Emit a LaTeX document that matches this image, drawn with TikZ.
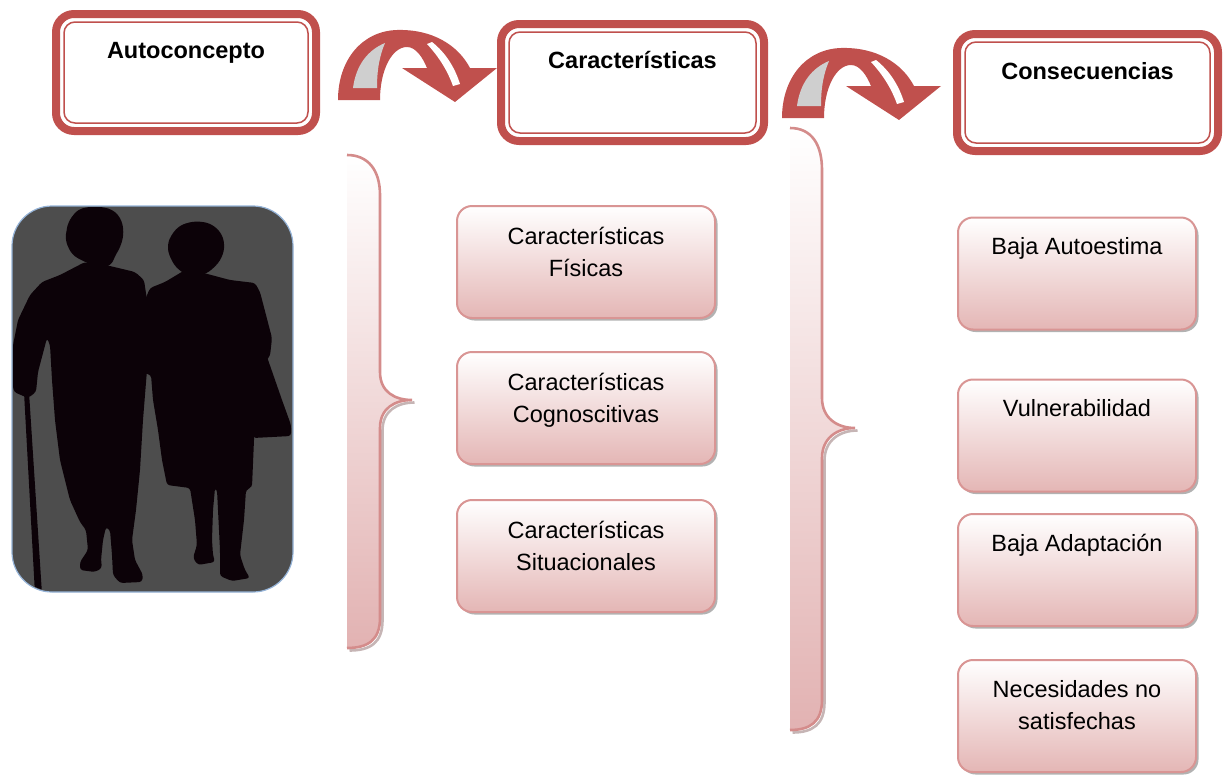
\documentclass[tikz,border=0pt]{standalone}
\usepackage{fontspec}
\setmainfont{Liberation Sans}
\usetikzlibrary{calc,shadows}

\definecolor{hdred}{HTML}{C0504D}
\definecolor{boxline}{HTML}{D99594}
\definecolor{boxbot}{HTML}{E4B6B5}
\definecolor{bracebot}{HTML}{E2B2B2}
\definecolor{braceline}{HTML}{D48C8B}
\definecolor{braceshadow}{HTML}{A08484}
\definecolor{arrgray}{HTML}{CFCFCF}
\definecolor{photobg}{HTML}{4D4D4D}
\definecolor{photoline}{HTML}{95B3D7}
\definecolor{figure}{HTML}{0C0208}

\tikzset{
  headbox/.style={draw=hdred, line width=8pt, rounded corners=18pt, fill=white,
    minimum width=#1, minimum height=117pt, inner sep=0pt, outer sep=0pt},
  headline/.style={draw=hdred, line width=1.5pt, rounded corners=11pt},
  headtext/.style={anchor=base, inner sep=0pt, font=\fontsize{23.5}{32}\selectfont\bfseries},
  pinkbox/.style={draw=boxline, line width=2pt, rounded corners=15pt,
    top color=white, bottom color=boxbot, minimum width=#1, minimum height=112pt,
    inner sep=0pt, outer sep=0pt,
    drop shadow={shadow xshift=2.5pt, shadow yshift=-2.5pt, fill=black, opacity=0.3}},
  bodytext/.style={anchor=base, inner sep=0pt, font=\fontsize{23.5}{32}\selectfont},
  braceedge/.style={draw=braceline, line width=2.6pt},
  braceshade/.style={draw=braceshadow, line width=2.6pt, opacity=0.6},
  photo/.style={rounded corners=40pt, fill=photobg, draw=photoline, line width=1.2pt,
    minimum width=281pt, minimum height=386pt, inner sep=0pt, outer sep=0pt},
  turnarrow/.pic={
    % red band with its arrow head
    \fill[hdred] (338,100) .. controls (338,60) and (362,31) .. (397,30)
      .. controls (432,29) and (458,45) .. (470,68) -- (497,68) -- (455,102)
      -- (402,68) -- (427,68) .. controls (423,58) and (416,47) .. (407,47)
      .. controls (392,47) and (380,70) .. (380,100) -- cycle;
    % grey underside of the rising leg
    \fill[arrgray] (353,88) .. controls (356,65) and (368,50) .. (385,43)
      .. controls (380,55) and (377,68) .. (377,88) -- cycle;
    % light sliver on the descending part
    \fill[white] (427,44) .. controls (440,58) and (448,72) .. (453,86)
      -- (460,84) .. controls (455,68) and (446,53) .. (432,42) -- cycle;
  }
}

\begin{document}
\begin{tikzpicture}[x=1pt,y=-1pt]
\useasboundingbox (0,0) rectangle (1229,774);

% ---------- headings ----------
\node[headbox=260pt] (auto) at (186,72.5) {};
\draw[headline] ($(auto.north west)+(8,8)$) rectangle ($(auto.south east)+(-8,-8)$);
\node[headtext] (autotxt) at ($(auto.north)+(0,44)$) {Autoconcepto};

\node[headbox=263pt] (carac) at (632.5,82.5) {};
\draw[headline] ($(carac.north west)+(8,8)$) rectangle ($(carac.south east)+(-8,-8)$);
\node[headtext] (caractxt) at ($(carac.north)+(0,44)$) {Características};

\node[headbox=261pt] (conse) at (1087.5,92.5) {};
\draw[headline] ($(conse.north west)+(8,8)$) rectangle ($(conse.south east)+(-8,-8)$);
\node[headtext] (consetxt) at ($(conse.north)+(0,45)$) {Consecuencias};

% ---------- curved arrows between headings ----------
\pic (arrowA) at (0,0) {turnarrow};
\pic (arrowB) at (444,18) {turnarrow};

% ---------- photograph ----------
\node[photo] (photo) at (152.5,399) {};
\begin{scope}
  \clip[rounded corners=40pt] ($(photo.north west)+(1,1)$) rectangle ($(photo.south east)+(-1,-1)$);
  % woman with the cane
  \fill[figure, rounded corners=6pt] (68,222) -- (78,209) -- (95,206) -- (112,209) -- (121,218)
    -- (124,232) -- (121,246) -- (115,256) -- (111,266) -- (100,268) -- (85,262)
    -- (72,255) -- (65,240) -- cycle;
  \fill[figure, rounded corners=3pt] (85,262) -- (110,266) -- (135,272) -- (144,280)
    -- (147,300) -- (148,340) -- (147,370) -- (143,420) -- (140,470) -- (136,510)
    -- (134,525) -- (132,540) -- (135,560) -- (143,575) -- (142,582) -- (120,583)
    -- (113,575) -- (112,555) -- (110,530) -- (106,527) -- (103,540) -- (101,560)
    -- (102,568) -- (95,572) -- (80,570) -- (80,562) -- (88,550) -- (86,530)
    -- (80,522) -- (70,500) -- (60,460) -- (55,420) -- (52,380) -- (50,345)
    -- (47,338) -- (38,372) -- (36,392) -- (28,398) -- (14,392) -- (12,380)
    -- (13,345) -- (18,320) -- (30,295) -- (42,282) -- (60,275) -- cycle;
  \fill[figure] (24,392) -- (29,392) -- (42,594) -- (35,594) -- cycle;
  % woman with the handbag
  \fill[figure, rounded corners=6pt] (171,235) -- (180,225) -- (195,221) -- (210,223)
    -- (221,232) -- (225,245) -- (222,258) -- (214,268) -- (204,275) -- (190,276)
    -- (178,270) -- (170,258) -- (167,246) -- cycle;
  \fill[figure, rounded corners=3pt] (185,270) -- (200,272) -- (230,280) -- (255,283)
    -- (260,292) -- (266,315) -- (272,338) -- (270,356) -- (265,362) -- (258,362)
    -- (256,400) -- (254,440) -- (252,487) -- (246,490) -- (244,520) -- (240,555)
    -- (245,570) -- (250,578) -- (232,581) -- (220,576) -- (220,550) -- (218,510)
    -- (217,490) -- (215,488) -- (213,510) -- (212,540) -- (213,555) -- (215,562)
    -- (198,565) -- (193,558) -- (197,545) -- (195,520) -- (190,488) -- (167,485)
    -- (162,460) -- (158,430) -- (153,400) -- (151,375) -- (140,372) -- (138,355)
    -- (142,320) -- (145,300) -- (150,288) -- (165,282) -- cycle;
  \fill[figure, rounded corners=3pt] (258,356) -- (266,354) -- (282,400) -- (291,425)
    -- (291,436) -- (253,438) -- (252,398) -- cycle;
\end{scope}

% ---------- first brace ----------
\shade[top color=white, bottom color=bracebot]
  (347,155) .. controls (368,155) and (380,170) .. (380,195) -- (380,372)
  .. controls (380,392) and (395,400) .. (412,400) .. controls (395,400) and (380,408) .. (380,428)
  -- (380,618) .. controls (380,640) and (368,648) .. (347,648) -- cycle;
\draw[braceshade, shift={(2.5,2.5)}]
  (412,400) .. controls (395,400) and (380,408) .. (380,428)
  -- (380,618) .. controls (380,640) and (368,648) .. (347,648);
\draw[braceedge]
  (347,155) .. controls (368,155) and (380,170) .. (380,195) -- (380,372)
  .. controls (380,392) and (395,400) .. (412,400) .. controls (395,400) and (380,408) .. (380,428)
  -- (380,618) .. controls (380,640) and (368,648) .. (347,648);

% ---------- second brace ----------
\shade[top color=white, bottom color=bracebot]
  (790,128) .. controls (812,128) and (822,145) .. (822,170) -- (822,398)
  .. controls (822,418) and (837,428) .. (855,428) .. controls (837,428) and (822,438) .. (822,458)
  -- (822,700) .. controls (822,722) and (810,730) .. (790,730) -- cycle;
\draw[braceshade, shift={(2.5,2.5)}]
  (855,428) .. controls (837,428) and (822,438) .. (822,458)
  -- (822,700) .. controls (822,722) and (810,730) .. (790,730);
\draw[braceedge]
  (790,128) .. controls (812,128) and (822,145) .. (822,170) -- (822,398)
  .. controls (822,418) and (837,428) .. (855,428) .. controls (837,428) and (822,438) .. (822,458)
  -- (822,700) .. controls (822,722) and (810,730) .. (790,730);

% ---------- characteristics ----------
\node[pinkbox=258pt] (fis) at (586,262) {};
\node[bodytext] (fistxt) at ($(fis.north)+(0,38)$) {\begin{tabular}[t]{@{}c@{}}Características\\Físicas\end{tabular}};
\node[pinkbox=258pt] (cog) at (586,408) {};
\node[bodytext] (cogtxt) at ($(cog.north)+(0,38)$) {\begin{tabular}[t]{@{}c@{}}Características\\Cognoscitivas\end{tabular}};
\node[pinkbox=258pt] (sit) at (586,556) {};
\node[bodytext] (sittxt) at ($(sit.north)+(0,38)$) {\begin{tabular}[t]{@{}c@{}}Características\\Situacionales\end{tabular}};

% ---------- consequences ----------
\node[pinkbox=238pt] (auto2) at (1077,273.5) {};
\node[bodytext] (auto2txt) at ($(auto2.north)+(0,37)$) {Baja Autoestima};
\node[pinkbox=238pt] (vuln) at (1077,435.5) {};
\node[bodytext] (vulntxt) at ($(vuln.north)+(0,37)$) {Vulnerabilidad};
\node[pinkbox=238pt] (adap) at (1077,570) {};
\node[bodytext] (adaptxt) at ($(adap.north)+(0,37)$) {Baja Adaptación};
\node[pinkbox=238pt] (nec) at (1077,716) {};
\node[bodytext] (nectxt) at ($(nec.north)+(0,37)$) {\begin{tabular}[t]{@{}c@{}}Necesidades no\\satisfechas\end{tabular}};

\end{tikzpicture}
\end{document}
